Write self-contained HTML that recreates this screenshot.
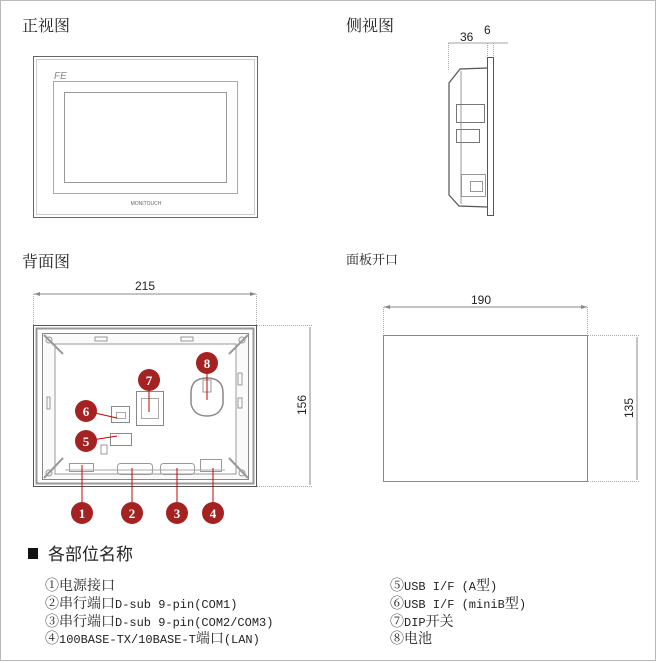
<!DOCTYPE html>
<html><head><meta charset="utf-8"><style>
body{margin:0;background:#fff;width:659px;height:663px;overflow:hidden}
svg{display:block}
.h{font-family:"Liberation Serif","Noto Serif CJK SC",serif;fill:#222}
.d{font-family:"Liberation Sans",sans-serif;font-size:12px;fill:#222}
.l{font-family:"Liberation Mono","Noto Serif CJK SC",monospace;font-size:12px;fill:#222}
.l .c{font-family:"Noto Serif CJK SC",serif;font-size:14px}
.n{font-family:"Liberation Serif",serif;font-size:13px;fill:#fff;text-anchor:middle;font-weight:bold}
</style></head><body>
<svg width="659" height="663" viewBox="0 0 659 663">
<rect x="0.5" y="0.5" width="655" height="660" fill="none" stroke="#bbb"/>
<text class="h" x="22" y="31" font-size="16">正视图</text>
<text class="h" x="346" y="31" font-size="16">侧视图</text>
<text class="h" x="22" y="267" font-size="16">背面图</text>
<text class="h" x="346" y="264" font-size="13">面板开口</text>
<!-- front -->
<rect x="33.5" y="56.5" width="224" height="161" fill="#fff" stroke="#666"/>
<rect x="36.5" y="59.5" width="218" height="155" fill="none" stroke="#ccc"/>
<rect x="53.5" y="81.5" width="184" height="112" fill="none" stroke="#aaa"/>
<rect x="64.5" y="92.5" width="162" height="90" fill="none" stroke="#999"/>
<text x="54" y="79" font-family="Liberation Sans" font-size="10" font-style="italic" fill="#888">FE</text>
<text x="146" y="205" font-family="Liberation Sans" font-size="5" fill="#666" text-anchor="middle">MONITOUCH</text>
<!-- side -->
<line x1="448" y1="43" x2="508" y2="43" stroke="#888" stroke-width="0.8"/>
<line x1="448.5" y1="43" x2="448.5" y2="70" stroke="#aaa" stroke-dasharray="1,1"/>
<line x1="487.5" y1="43" x2="487.5" y2="57" stroke="#aaa" stroke-dasharray="1,1"/>
<line x1="493.5" y1="43" x2="493.5" y2="57" stroke="#aaa" stroke-dasharray="1,1"/>
<text class="d" x="460" y="41">36</text><text class="d" x="484" y="34">6</text>
<rect x="487.5" y="57.5" width="6" height="158" fill="#fff" stroke="#555"/>
<path d="M487 68 L460 69 L449 83 L449 195 L459 206 L487 207" fill="#fff" stroke="#555" stroke-width="1.2"/>
<line x1="461" y1="71" x2="461" y2="204" stroke="#999"/>
<rect x="456.5" y="104.5" width="28" height="18" fill="none" stroke="#777"/>
<rect x="456.5" y="129.5" width="23" height="13" fill="none" stroke="#777"/>
<rect x="461.5" y="174.5" width="24" height="22" fill="none" stroke="#999"/>
<rect x="470.5" y="181.5" width="12" height="10" fill="none" stroke="#999"/>
<!-- back dims -->
<line x1="34" y1="294" x2="256" y2="294" stroke="#888"/>
<path d="M34 294 l6 -2 v4z M256 294 l-6 -2 v4z" fill="#888"/>
<text class="d" x="145" y="290" text-anchor="middle">215</text>
<line x1="33.5" y1="294" x2="33.5" y2="325" stroke="#aaa" stroke-dasharray="1,1"/>
<line x1="256.5" y1="294" x2="256.5" y2="325" stroke="#aaa" stroke-dasharray="1,1"/>
<line x1="257" y1="325.5" x2="312" y2="325.5" stroke="#aaa" stroke-dasharray="1,1"/>
<line x1="257" y1="486.5" x2="312" y2="486.5" stroke="#aaa" stroke-dasharray="1,1"/>
<line x1="310" y1="327" x2="310" y2="485" stroke="#888"/>
<text class="d" x="306" y="405" text-anchor="middle" transform="rotate(-90 306 405)">156</text>
<!-- back -->
<rect x="33.5" y="325.5" width="223" height="161" fill="#fff" stroke="#555"/>
<rect x="36.5" y="328.5" width="217" height="155" fill="none" stroke="#999" stroke-width="2"/>
<rect x="42.5" y="333.5" width="206" height="146" fill="#fafafa" stroke="#888"/>
<path d="M55 344 L236 344 L236 474 L55 474Z" fill="#fff" stroke="#999"/>
<path d="M44 335 L63 354 M248 335 L229 354 M44 478 L63 458 M248 478 L229 458" stroke="#999" stroke-width="2"/>
<circle cx="49" cy="340" r="3" fill="none" stroke="#999"/><circle cx="242" cy="340" r="3" fill="none" stroke="#999"/>
<circle cx="49" cy="473" r="3" fill="none" stroke="#999"/><circle cx="242" cy="473" r="3" fill="none" stroke="#999"/>
<rect x="95" y="337" width="12" height="4" fill="none" stroke="#999"/><rect x="181" y="337" width="12" height="4" fill="none" stroke="#999"/>
<rect x="238" y="373" width="4" height="12" fill="none" stroke="#999"/><rect x="238" y="398" width="4" height="10" fill="none" stroke="#999"/>
<rect x="47" y="397" width="3" height="12" fill="none" stroke="#999"/>
<path d="M191 393 q0-15 16-15 q16 0 16 15 v11 q-3 12-16 12 q-13 0-16-12z" fill="none" stroke="#888" stroke-width="1.5"/>
<rect x="203" y="380" width="8" height="12" fill="none" stroke="#999"/>
<rect x="136.5" y="391.5" width="27" height="34" fill="none" stroke="#888"/>
<rect x="141.5" y="398.5" width="17" height="20" fill="none" stroke="#aaa"/>
<rect x="111.5" y="406.5" width="18" height="16" fill="none" stroke="#888"/>
<rect x="116.5" y="412.5" width="9" height="6" fill="none" stroke="#aaa"/>
<rect x="110.5" y="433.5" width="21" height="12" fill="none" stroke="#888"/>
<rect x="101" y="445" width="6" height="9" fill="none" stroke="#999"/>
<rect x="69.5" y="463.5" width="24" height="8" fill="none" stroke="#999"/>
<rect x="117.5" y="463.5" width="35" height="11" rx="3" fill="none" stroke="#999"/>
<rect x="160.5" y="463.5" width="34" height="11" rx="3" fill="none" stroke="#999"/>
<rect x="200.5" y="459.5" width="21" height="12" fill="none" stroke="#999"/>
<line x1="65" y1="470" x2="225" y2="470" stroke="#aaa"/>
<!-- leaders -->
<g stroke="#c00" stroke-width="1">
<line x1="207" y1="363" x2="207" y2="400"/><line x1="149" y1="380" x2="149" y2="412"/>
<line x1="86" y1="411" x2="117" y2="418"/><line x1="86" y1="441" x2="117" y2="436"/>
<line x1="82" y1="465" x2="82" y2="513"/><line x1="132" y1="468" x2="132" y2="513"/>
<line x1="177" y1="468" x2="177" y2="513"/><line x1="213" y1="468" x2="213" y2="513"/>
</g>
<g fill="#a42222">
<circle cx="207" cy="363" r="11"/><circle cx="149" cy="380" r="11"/><circle cx="86" cy="411" r="11"/><circle cx="86" cy="441" r="11"/>
<circle cx="82" cy="513" r="11"/><circle cx="132" cy="513" r="11"/><circle cx="177" cy="513" r="11"/><circle cx="213" cy="513" r="11"/>
</g>
<text class="n" x="207" y="368">8</text><text class="n" x="149" y="385">7</text><text class="n" x="86" y="416">6</text><text class="n" x="86" y="446">5</text>
<text class="n" x="82" y="518">1</text><text class="n" x="132" y="518">2</text><text class="n" x="177" y="518">3</text><text class="n" x="213" y="518">4</text>
<!-- cutout -->
<line x1="384" y1="307" x2="587" y2="307" stroke="#888"/>
<path d="M384 307 l6 -2 v4z M587 307 l-6 -2 v4z" fill="#888"/>
<text class="d" x="481" y="304" text-anchor="middle">190</text>
<line x1="383.5" y1="307" x2="383.5" y2="335" stroke="#aaa" stroke-dasharray="1,1"/>
<line x1="587.5" y1="307" x2="587.5" y2="335" stroke="#aaa" stroke-dasharray="1,1"/>
<rect x="383.5" y="335.5" width="204" height="146" fill="#fff" stroke="#888"/>
<line x1="588" y1="335.5" x2="640" y2="335.5" stroke="#aaa" stroke-dasharray="1,1"/>
<line x1="588" y1="481.5" x2="640" y2="481.5" stroke="#aaa" stroke-dasharray="1,1"/>
<line x1="637" y1="337" x2="637" y2="480" stroke="#888"/>
<text class="d" x="633" y="408" text-anchor="middle" transform="rotate(-90 633 408)">135</text>
<!-- legend -->
<rect x="28" y="548" width="10" height="11" fill="#111"/>
<text x="48" y="560" font-size="17" fill="#222" style="font-family:'Liberation Sans','Noto Sans CJK SC',sans-serif">各部位名称</text>
<g class="l">
<text x="45" y="590"><tspan class="c">①电源接口</tspan></text>
<text x="45" y="608"><tspan class="c">②串行端口</tspan>D-sub 9-pin(COM1)</text>
<text x="45" y="626"><tspan class="c">③串行端口</tspan>D-sub 9-pin(COM2/COM3)</text>
<text x="45" y="643"><tspan class="c">④</tspan>100BASE-TX/10BASE-T<tspan class="c">端口</tspan>(LAN)</text>
<text x="390" y="590"><tspan class="c">⑤</tspan>USB I/F (A<tspan class="c">型</tspan>)</text>
<text x="390" y="608"><tspan class="c">⑥</tspan>USB I/F (miniB<tspan class="c">型</tspan>)</text>
<text x="390" y="626"><tspan class="c">⑦</tspan>DIP<tspan class="c">开关</tspan></text>
<text x="390" y="643"><tspan class="c">⑧电池</tspan></text>
</g>
</svg>
</body></html>
